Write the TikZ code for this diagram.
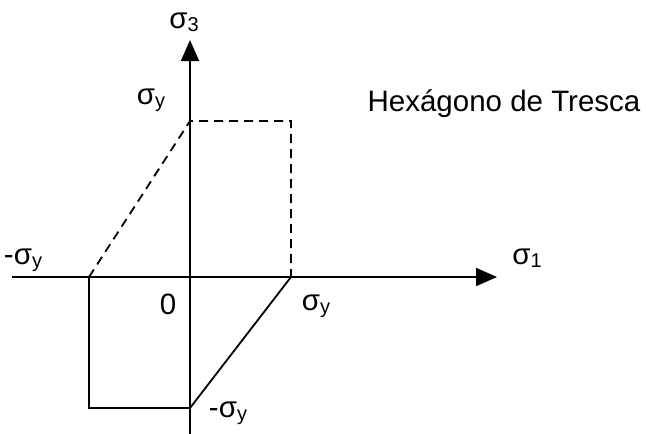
\documentclass[tikz,border=0pt]{standalone}
\usepackage{fontspec}
\setmainfont{Liberation Sans}
\usepackage{tikz}
\usetikzlibrary{arrows.meta}
\newcommand{\stress}[1]{σ\raisebox{-3pt}{\fontsize{20}{20}\selectfont #1}}
\newcommand{\yield}{\stress{y}}

\begin{document}
\begin{tikzpicture}[x=1pt,y=-1pt,line width=1.8pt,
  lbl/.style={font=\fontsize{29.5}{31}\selectfont,inner sep=0pt},
  axis/.style={-{Triangle[length=21pt,width=18pt]}},
  trace/.style={dash pattern=on 9pt off 6pt}]
 \useasboundingbox (0,0) rectangle (646,434);
 \coordinate (o)    at (190,277);
 \coordinate (xmin) at (12,277);
 \coordinate (xmax) at (497,277);
 \coordinate (ymin) at (190,434);
 \coordinate (ymax) at (190,40);
 \coordinate (p1)   at (291,277);
 \coordinate (m1)   at (89,277);
 \coordinate (p3)   at (190,121);
 \coordinate (m3)   at (190,408);
 \coordinate (pp)   at (291,121);
 \coordinate (mm)   at (89,408);
 \draw[axis] (xmin) -- (xmax);
 \draw[axis] (ymin) -- (ymax);
 \draw[trace] (m1) -- (p3) -- (pp) -- (p1);
 \draw (p1) -- (m3) -- (mm) -- (m1);
 \node[lbl] (s3)    at (184,22)  {\stress{3}};
 \node[lbl] (s1)    at (527,258) {\stress{1}};
 \node[lbl] (sy3)   at (151,100) {\yield};
 \node[lbl] (msy1)  at (23,260)  {-\yield};
 \node[lbl] (zero)  at (168,304) {0};
 \node[lbl] (sy1)   at (316,306) {\yield};
 \node[lbl] (msy3)  at (228,413) {-\yield};
 \node[lbl] (title) at (504,104) {Hexágono de Tresca};
\end{tikzpicture}
\end{document}
